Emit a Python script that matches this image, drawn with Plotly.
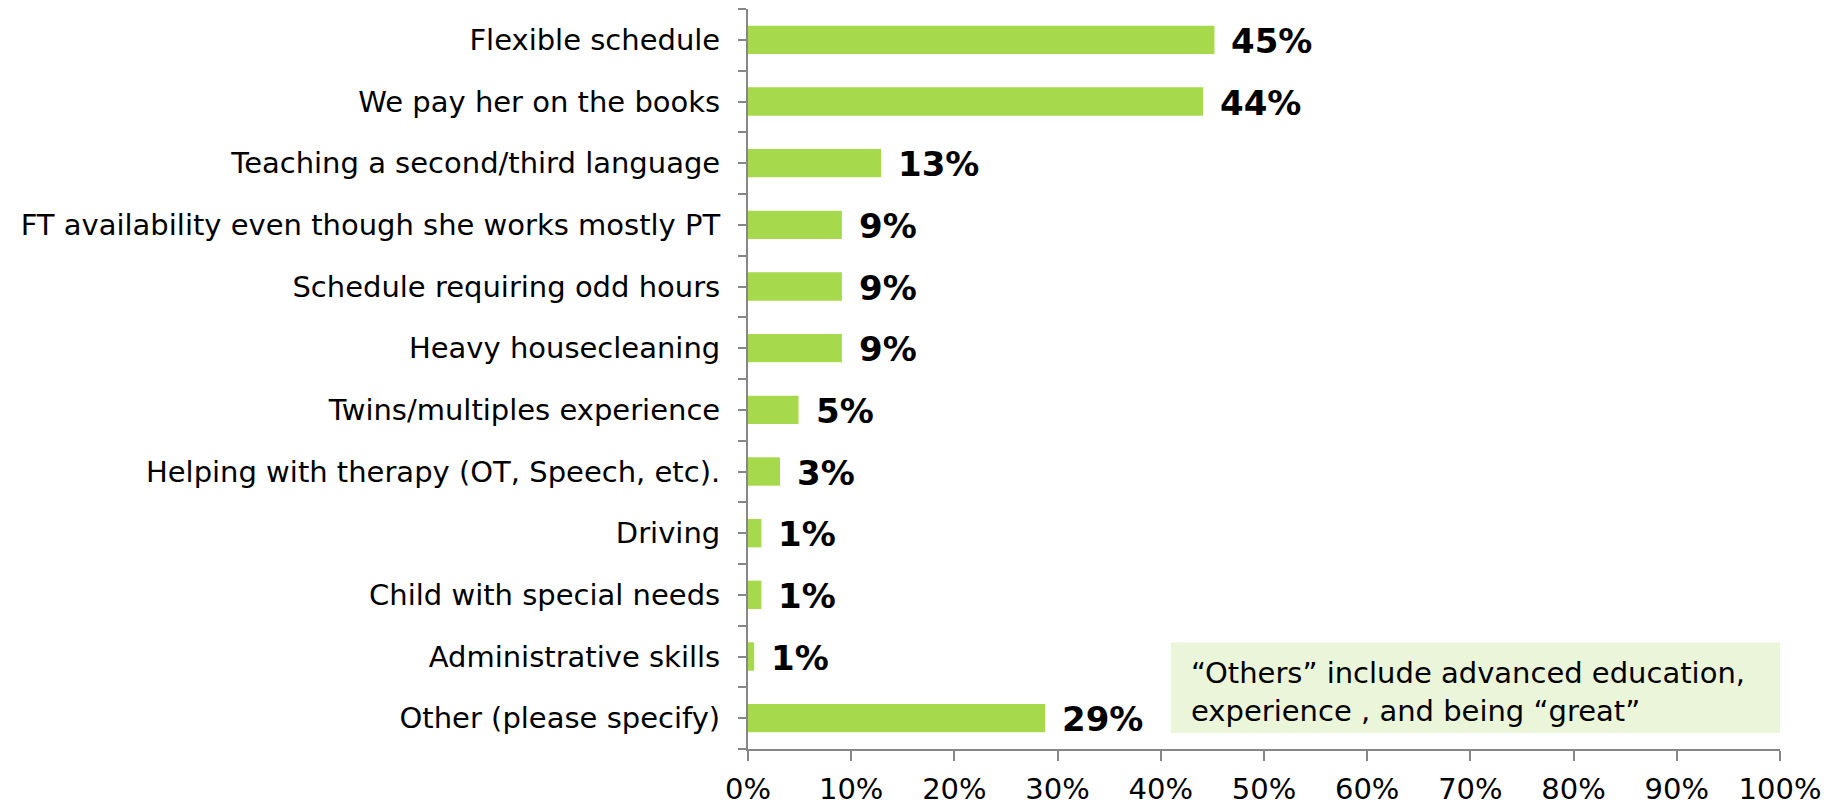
import plotly.graph_objects as go

categories = [
    "Flexible schedule",
    "We pay her on the books",
    "Teaching a second/third language",
    "FT availability even though she works mostly PT",
    "Schedule requiring odd hours",
    "Heavy housecleaning",
    "Twins/multiples experience",
    "Helping with therapy (OT, Speech, etc).",
    "Driving",
    "Child with special needs",
    "Administrative skills",
    "Other (please specify)",
]
values = [45.2, 44.1, 12.9, 9.1, 9.1, 9.1, 4.9, 3.1, 1.3, 1.3, 0.6, 28.8]
value_labels = ["45%", "44%", "13%", "9%", "9%", "9%", "5%", "3%", "1%", "1%", "1%", "29%"]
x_ticks = list(range(0, 101, 10))
x_tick_labels = [f"{v}%" for v in x_ticks]
note_lines = ["\u201cOthers\u201d include advanced education,", "experience , and being \u201cgreat\u201d"]

n = len(categories)
pos = list(range(n))

BAR = "#A6D94B"
AXIS = "#878787"
FONT = "Verdana, DejaVu Sans, sans-serif"

fig = go.Figure()
fig.add_trace(go.Bar(
    x=values, y=pos, orientation="h",
    marker=dict(color=BAR, line=dict(width=0)),
    width=0.46, hoverinfo="skip",
))

for v, lab, p in zip(values, value_labels, pos):
    fig.add_annotation(
        x=v, y=p, xref="x", yref="y", text=lab, showarrow=False,
        xanchor="left", yanchor="middle", xshift=15, yshift=-1,
        font=dict(family=FONT, size=34, color="#000000", weight="bold"),
    )

# note box
fig.add_shape(type="rect", xref="paper", yref="paper",
              x0=(1171 - 748) / 1032, x1=1.0,
              y0=(749 - 733) / 740, y1=(749 - 642.5) / 740,
              fillcolor="#EBF5DA", line=dict(width=0), layer="below")
fig.add_annotation(
    xref="paper", yref="paper", x=(1189 - 748) / 1032, y=(749 - 691.5) / 740,
    text="<br>".join(note_lines), showarrow=False, align="left",
    xanchor="left", yanchor="middle",
    font=dict(family=FONT, size=29, color="#000000"),
)

fig.update_layout(
    width=1842, height=807,
    margin=dict(l=748, r=62, t=9, b=58, autoexpand=False),
    paper_bgcolor="white", plot_bgcolor="white",
    showlegend=False, bargap=0.54,
    font=dict(family=FONT, color="#000000"),
)
fig.update_xaxes(
    range=[0, 100], tickvals=x_ticks, ticktext=x_tick_labels,
    showgrid=False, zeroline=False, showline=True, linecolor=AXIS, linewidth=2,
    ticks="outside", ticklen=10, tickwidth=2, tickcolor=AXIS,
    tickfont=dict(family=FONT, size=29, color="#000000"),
    ticklabelstandoff=3, automargin=False,
)
fig.update_yaxes(
    range=[n - 0.5, -0.5],
    tickvals=pos + [i - 0.5 for i in range(n + 1)],
    ticktext=categories + [""] * (n + 1),
    showgrid=False, zeroline=False, showline=True, linecolor=AXIS, linewidth=2,
    ticks="outside", ticklen=8, tickwidth=2, tickcolor=AXIS,
    tickfont=dict(family=FONT, size=29, color="#000000"),
    ticklabelstandoff=12, automargin=False,
)

fig.write_html(
    "out.html",
    config={"displayModeBar": False},
    post_script="document.body.style.margin='0';document.body.style.overflow='hidden';",
)
